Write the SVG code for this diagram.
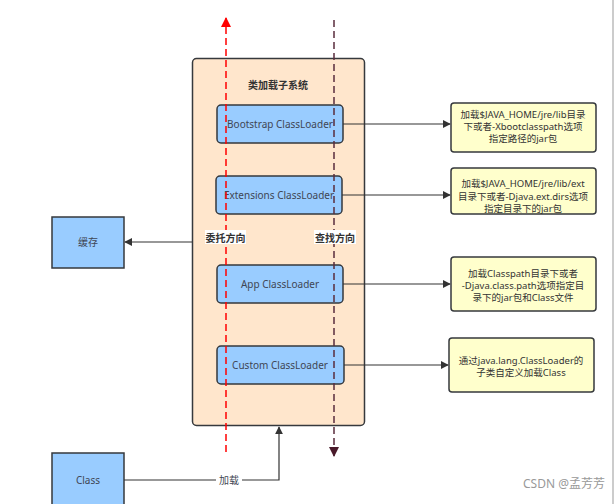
<svg xmlns="http://www.w3.org/2000/svg" width="615" height="504" viewBox="0 0 615 504">
<style>
.t{font-family:"Noto Sans","Noto Sans CJK SC",sans-serif;font-size:10px;fill:#3f4654;text-anchor:middle;dominant-baseline:central}
.s{font-family:"Noto Sans","Noto Sans CJK SC",sans-serif;font-size:9.5px;fill:#333;text-anchor:middle;dominant-baseline:central}
.b{font-family:"Noto Sans CJK SC",sans-serif;font-size:10px;font-weight:bold;fill:#333;text-anchor:middle;dominant-baseline:central}
.loader{fill:#99ccff;stroke:#36393d;stroke-width:1.5}
.note{fill:#ffffcc;stroke:#36393d;stroke-width:1.5}
.blue{fill:#99ccff;stroke:#36393d;stroke-width:1.5}
.con{fill:none;stroke:#333;stroke-width:1.2}
</style>
<defs>
<marker id="ah" viewBox="0 0 10 10" refX="9" refY="5" markerWidth="8" markerHeight="8" markerUnits="userSpaceOnUse" orient="auto"><path d="M0,0 L10,5 L0,10 Z" fill="#333"/></marker>
<marker id="ahr" viewBox="0 0 10 10" refX="9" refY="5" markerWidth="10" markerHeight="10" markerUnits="userSpaceOnUse" orient="auto"><path d="M0,0 L10,5 L0,10 Z" fill="#ff0000"/></marker>
<marker id="ahd" viewBox="0 0 10 10" refX="9" refY="5" markerWidth="10" markerHeight="10" markerUnits="userSpaceOnUse" orient="auto"><path d="M0,0 L10,5 L0,10 Z" fill="#4a1a2a"/></marker>
</defs>
<rect width="615" height="504" fill="#ffffff"/>
<line x1="613" y1="0" x2="613" y2="504" stroke="#999" stroke-width="1"/>

<g id="subsystem">
<rect x="192.5" y="58.5" width="172" height="367" rx="4" fill="#ffe6cc" stroke="#36393d" stroke-width="1.5"/>
<text class="b" x="278" y="84">类加载子系统</text>
</g>

<g id="bootstrap"><rect class="loader" x="217" y="105" width="126" height="38" rx="4"/><text class="t" x="280" y="124">Bootstrap ClassLoader</text></g>
<g id="extensions"><rect class="loader" x="216" y="176" width="126" height="38" rx="4"/><text class="t" x="279" y="195">Extensions ClassLoader</text></g>
<g id="app"><rect class="loader" x="217" y="265" width="126" height="38" rx="4"/><text class="t" x="280" y="284">App ClassLoader</text></g>
<g id="custom"><rect class="loader" x="217" y="346" width="127" height="38" rx="4"/><text class="t" x="280" y="365">Custom ClassLoader</text></g>

<g id="note1"><rect class="note" x="451" y="103" width="145" height="49" rx="3"/>
<text class="s" x="523" y="114">加载$JAVA_HOME/jre/lib目录</text><text class="s" x="523" y="126">下或者-Xbootclasspath选项</text><text class="s" x="523" y="138">指定路径的jar包</text></g>
<g id="note2"><rect class="note" x="451" y="168" width="145" height="46" rx="3"/>
<text class="s" x="523" y="183">加载$JAVA_HOME/jre/lib/ext</text><text class="s" x="523" y="196">目录下或者-Djava.ext.dirs选项</text><text class="s" x="523" y="208">指定目录下的jar包</text></g>
<g id="note3"><rect class="note" x="451" y="257" width="145" height="54" rx="3"/>
<text class="s" x="523" y="273">加载Classpath目录下或者</text><text class="s" x="523" y="285">-Djava.class.path选项指定目</text><text class="s" x="523" y="297">录下的jar包和Class文件</text></g>
<g id="note4"><rect class="note" x="449" y="338" width="145" height="54" rx="3"/>
<text class="s" x="521" y="360">通过java.lang.ClassLoader的</text><text class="s" x="521" y="372">子类自定义加载Class</text></g>

<g id="cache"><rect class="blue" x="52" y="217" width="72" height="51"/><text class="t" x="88" y="242">缓存</text></g>
<g id="class"><rect class="blue" x="52" y="453" width="72" height="54"/><text class="t" x="88" y="480">Class</text></g>

<g id="connectors">
<line class="con" x1="343" y1="124" x2="450" y2="124" marker-end="url(#ah)"/>
<line class="con" x1="342" y1="195" x2="450" y2="195" marker-end="url(#ah)"/>
<line class="con" x1="343" y1="284" x2="450" y2="284" marker-end="url(#ah)"/>
<line class="con" x1="344" y1="365" x2="448" y2="365" marker-end="url(#ah)"/>
<line class="con" x1="192" y1="242" x2="125" y2="242" marker-end="url(#ah)"/>
<polyline class="con" points="124,480 279,480 279,427" marker-end="url(#ah)"/>
<rect x="216" y="473" width="26" height="14" fill="#ffffff"/>
<text class="t" x="229" y="480">加载</text>
<line x1="226" y1="452" x2="226" y2="18" stroke="#ff0000" stroke-width="1.5" stroke-dasharray="7,4" marker-end="url(#ahr)"/>
<line x1="334" y1="20" x2="334" y2="456" stroke="#5a2d3c" stroke-width="1.5" stroke-dasharray="7,4" marker-end="url(#ahd)"/>
<rect x="205" y="230" width="41" height="14" fill="#ffffff"/>
<text class="b" x="225.5" y="237">委托方向</text>
<rect x="314" y="230" width="42" height="14" fill="#ffffff"/>
<text class="b" x="335" y="237">查找方向</text>
</g>

<text x="605" y="488" font-family="'Noto Sans','Noto Sans CJK SC',sans-serif" font-size="12" fill="#999" text-anchor="end">CSDN @孟芳芳</text>
</svg>
